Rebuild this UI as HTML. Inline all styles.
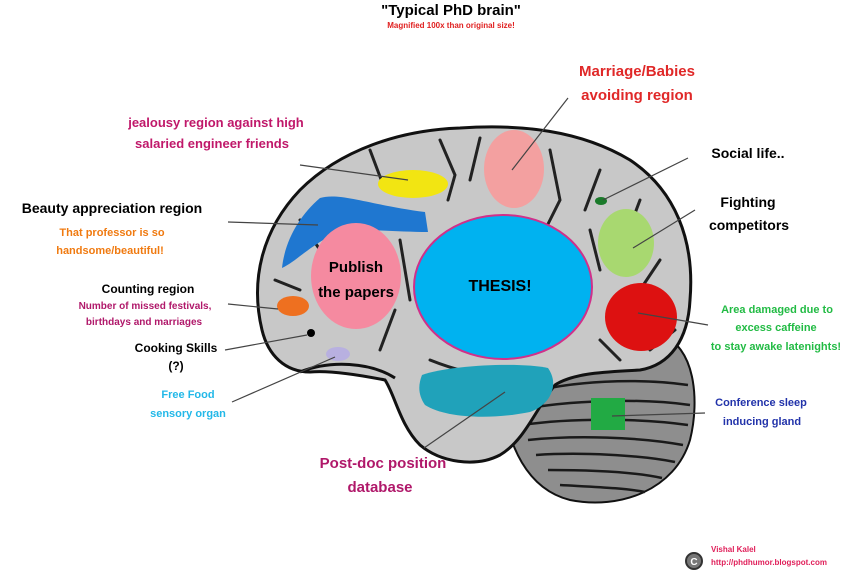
<!DOCTYPE html>
<html><head><meta charset="utf-8"><style>
html,body{margin:0;padding:0;background:#fff}
svg{display:block}
text{font-family:"Liberation Sans",sans-serif;font-weight:bold}
</style></head><body>
<svg width="860" height="571" viewBox="0 0 860 571" xmlns="http://www.w3.org/2000/svg">
<!-- cerebellum -->
<path d="M500,380 C520,340 600,330 660,335 C695,345 700,400 690,440 C675,490 620,510 570,500 C530,490 505,450 500,380 Z" fill="#8e8e8e" stroke="#111" stroke-width="2"/>
<g stroke="#1a1a1a" stroke-width="2.5" fill="none">
<path d="M520,395 C570,380 640,378 688,385"/><path d="M518,410 C570,400 640,398 690,405"/>
<path d="M522,425 C570,418 640,418 688,425"/><path d="M528,440 C575,435 640,437 683,445"/>
<path d="M536,455 C580,452 640,455 675,462"/><path d="M548,470 C590,470 635,472 662,478"/>
<path d="M560,485 C595,487 625,488 645,492"/>
</g>
<!-- cerebrum -->
<path d="M262,330 C250,280 262,230 300,190 C340,150 400,130 460,128 C520,124 580,130 630,160 C675,190 695,240 690,300 C688,340 670,365 640,370 C610,372 575,372 555,385 C535,410 525,440 500,455 C475,468 440,462 420,445 C400,425 395,395 385,380 C360,375 330,370 310,372 C285,372 268,355 262,330 Z" fill="#c8c8c8" stroke="#111" stroke-width="3"/>
<path d="M300,372 C330,360 370,362 395,378" stroke="#111" stroke-width="3" fill="none"/>
<g stroke="#222" stroke-width="3" fill="none" stroke-linecap="round">
<path d="M370,150 L385,190"/><path d="M440,140 L455,175 L448,200"/><path d="M480,138 L470,180"/>
<path d="M550,150 L560,200 L545,230"/><path d="M600,170 L585,210"/><path d="M640,200 L625,240"/>
<path d="M660,260 L640,290"/><path d="M675,330 L650,350"/><path d="M300,220 L320,250"/>
<path d="M275,280 L300,290"/><path d="M400,240 L410,300"/><path d="M395,310 L380,350"/>
<path d="M430,360 C480,380 520,380 545,370"/><path d="M590,230 L600,270"/><path d="M600,340 L620,360"/>
</g>
<!-- regions -->
<ellipse cx="413" cy="184" rx="35" ry="14" fill="#f2e512"/>
<ellipse cx="514" cy="169" rx="30" ry="39" fill="#f3a0a0"/>
<ellipse cx="601" cy="201" rx="6" ry="4" fill="#1a7a2a"/>
<ellipse cx="626" cy="243" rx="28" ry="34" fill="#a8d870"/>
<ellipse cx="641" cy="317" rx="36" ry="34" fill="#dd1111"/>
<path d="M282,268 C285,240 300,215 320,198 C340,192 370,205 425,212 L428,232 C390,232 350,226 330,236 C305,250 295,262 282,268 Z" fill="#1f77d0"/>
<ellipse cx="356" cy="276" rx="45" ry="53" fill="#f58aa0"/>
<ellipse cx="503" cy="287" rx="89" ry="72" fill="#00b2f0" stroke="#d0308a" stroke-width="2"/>
<path d="M422,375 C450,365 520,362 548,368 C560,385 550,405 530,412 C490,420 445,418 425,405 C418,395 418,385 422,375 Z" fill="#20a2ba"/>
<rect x="591" y="398" width="34" height="32" fill="#22aa44"/>
<ellipse cx="293" cy="306" rx="16" ry="10" fill="#ee7020"/>
<circle cx="311" cy="333" r="4" fill="#000"/>
<ellipse cx="338" cy="354" rx="12" ry="7" fill="#b8b0e0"/>
<!-- lines -->
<g stroke="#444" stroke-width="1.2">
<line x1="300" y1="165" x2="408" y2="180"/><line x1="228" y1="222" x2="318" y2="225"/>
<line x1="568" y1="98" x2="512" y2="170"/><line x1="688" y1="158" x2="603" y2="200"/>
<line x1="695" y1="210" x2="633" y2="248"/><line x1="708" y1="325" x2="638" y2="313"/>
<line x1="705" y1="413" x2="612" y2="416"/><line x1="424" y1="448" x2="505" y2="392"/>
<line x1="228" y1="304" x2="278" y2="309"/><line x1="225" y1="350" x2="307" y2="335"/>
<line x1="232" y1="402" x2="335" y2="357"/>
</g>
<!-- texts -->
<text x="451" y="15" font-size="15" text-anchor="middle" font-weight="normal" fill="#000">"Typical PhD brain"</text>
<text x="451" y="28" font-size="8" text-anchor="middle" fill="#e02020">Magnified 100x than original size!</text>
<g font-size="15" text-anchor="middle" fill="#e02828">
<text x="637" y="76">Marriage/Babies</text><text x="637" y="100">avoiding region</text></g>
<g font-size="13" text-anchor="middle" fill="#c0186a">
<text x="216" y="127">jealousy region against high</text><text x="212" y="148">salaried engineer friends</text></g>
<text x="112" y="213" font-size="14" text-anchor="middle" fill="#000">Beauty appreciation region</text>
<g font-size="11" text-anchor="middle" fill="#f07a10">
<text x="112" y="236">That professor is so</text><text x="110" y="254">handsome/beautiful!</text></g>
<g font-size="14" text-anchor="middle" fill="#000">
<text x="748" y="158">Social life..</text><text x="748" y="207">Fighting</text><text x="749" y="230">competitors</text></g>
<g font-size="11" text-anchor="middle" fill="#22bb44">
<text x="777" y="313">Area damaged due to</text><text x="776" y="331">excess caffeine</text><text x="776" y="350">to stay awake latenights!</text></g>
<text x="148" y="293" font-size="12" text-anchor="middle" fill="#000">Counting region</text>
<g font-size="10" text-anchor="middle" fill="#b0186a">
<text x="145" y="309">Number of missed festivals,</text><text x="144" y="325">birthdays and marriages</text></g>
<g font-size="12" text-anchor="middle" fill="#000"><text x="176" y="352">Cooking Skills</text><text x="176" y="370">(?)</text></g>
<g font-size="11" text-anchor="middle" fill="#22b8e8"><text x="188" y="398">Free Food</text><text x="188" y="417">sensory organ</text></g>
<g font-size="11" text-anchor="middle" fill="#2233aa"><text x="761" y="406">Conference sleep</text><text x="762" y="425">inducing gland</text></g>
<g font-size="15" text-anchor="middle" fill="#b0186a"><text x="383" y="468">Post-doc position</text><text x="380" y="492">database</text></g>
<g font-size="15" text-anchor="middle" fill="#000"><text x="356" y="272">Publish</text><text x="356" y="297">the papers</text></g>
<text x="500" y="291" font-size="16" text-anchor="middle" fill="#000">THESIS!</text>
<circle cx="694" cy="561" r="8" fill="#777" stroke="#333" stroke-width="2"/><text x="694" y="565" font-size="10" text-anchor="middle" fill="#fff">C</text>
<text x="711" y="552" font-size="8" fill="#e0205a">Vishal Kalel</text>
<text x="711" y="565" font-size="8" fill="#e0205a">http://phdhumor.blogspot.com</text>
</svg>
</body></html>
